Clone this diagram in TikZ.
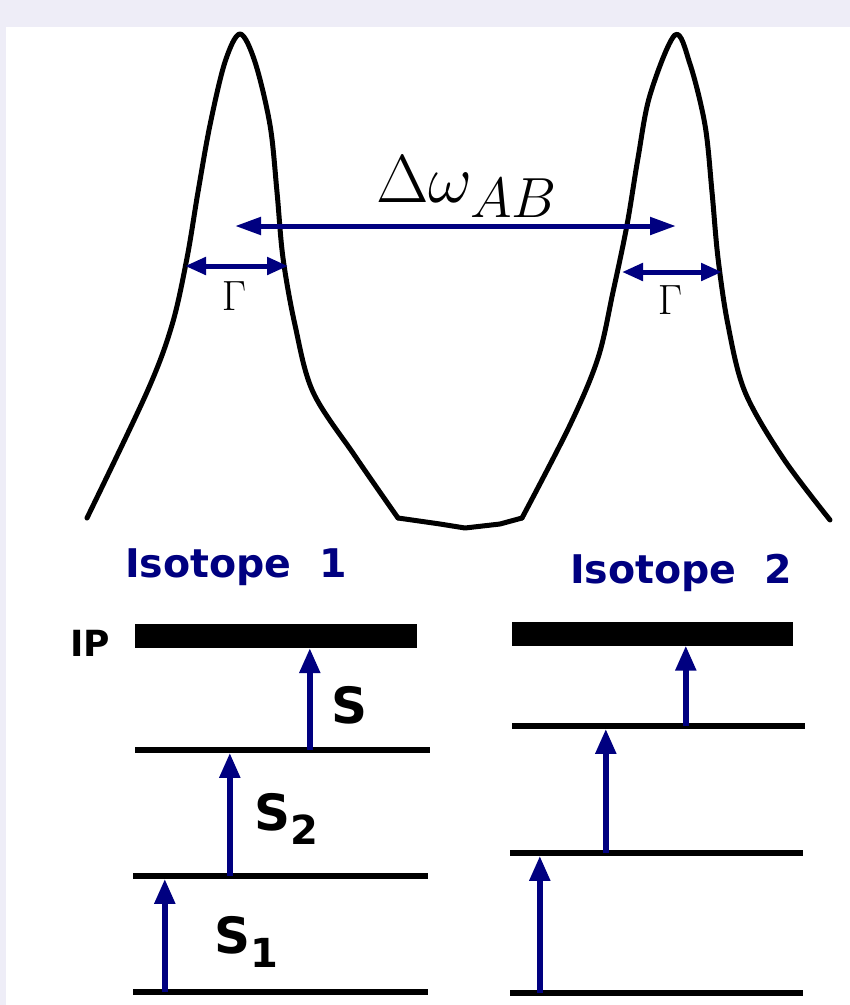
\documentclass[tikz,border=0pt]{standalone}
\usepackage[no-math]{fontspec}
\newfontfamily\labelfont{DejaVu Sans}
\usepackage{tikz}
\usetikzlibrary{arrows.meta,positioning,calc}
\definecolor{arrowcolor}{RGB}{0,0,128}
\definecolor{framecolor}{RGB}{238,237,247}
\newcommand{\lvlsub}[1]{\raisebox{-14pt}{\fontsize{40}{42}\selectfont #1}}

\begin{document}
\begin{tikzpicture}[
    x=1pt, y=-1pt,
    every node/.style={inner sep=0pt},
    spectrum/.style={line width=5pt, line join=round, line cap=round},
    level/.style={rectangle, fill=black, minimum height=5.5pt},
    ipbar/.style={rectangle, fill=black, minimum height=24pt},
    excite/.style={arrowcolor, line width=5.5pt, -{Triangle[length=25pt,width=20pt]}},
    span/.style={arrowcolor, line width=5pt, {Triangle[length=26pt,width=17pt]}-{Triangle[length=26pt,width=17pt]}},
    fwhm/.style={arrowcolor, line width=5pt, {Triangle[length=21pt,width=17pt]}-{Triangle[length=21pt,width=17pt]}},
    isolabel/.style={font=\labelfont\bfseries\fontsize{39.5}{42}\selectfont, text=arrowcolor, anchor=base west},
    steplabel/.style={font=\labelfont\bfseries\fontsize{50}{52}\selectfont, anchor=base west},
    gammalabel/.style={font=\fontsize{24.88}{30}\selectfont}
]
    % Frame
    \useasboundingbox (0,0) rectangle (850,1005);
    \fill[framecolor] (0,0) rectangle (850,1005);
    \fill[white] (6,27) rectangle (850,1005);

    % Spectrum
    \draw[spectrum] plot[smooth, tension=0.55] coordinates {(87,518) (147,392) (172,325) (187,258) (198,192) (210,125) (225,62) (240,34) (255,62) (270,125) (277,192) (283,258) (295,325) (313,392) (355,456) (398,518)};
    \draw[spectrum] (398,518) -- (440,524) -- (465,528) -- (500,524) -- (522,518);
    \draw[spectrum] plot[smooth, tension=0.55] coordinates {(522,518) (570,425) (598,358) (613,292) (627,225) (638,158) (650,95) (675,35) (690,64) (705,125) (712,192) (718,258) (728,325) (745,392) (783,458) (830,520)};

    \coordinate (dwL) at (235,226);
    \coordinate (dwR) at (676,226);
    \coordinate (g1L) at (185,266);
    \coordinate (g1R) at (288,266);
    \coordinate (g2L) at (622,272);
    \coordinate (g2R) at (722,272);

    \node[anchor=base west, font=\fontsize{24.88}{30}\selectfont] (dw) at (376,202) {\scalebox{2.73}{$\Delta\omega_{AB}$}};
    \node[gammalabel] (gam1) at (234,296) {\scalebox{1.7}{$\Gamma$}};
    \node[gammalabel] (gam2) at (670,300) {\scalebox{1.7}{$\Gamma$}};

    \draw[span] (dwL) -- (dwR);
    \draw[fwhm] (g1L) -- (g1R);
    \draw[fwhm] (g2L) -- (g2R);

    % Isotope 1
    \node[isolabel] (iso1) at (125,577) {Isotope\ \ 1};
    \node[steplabel, font=\labelfont\bfseries\fontsize{36}{38}\selectfont] (ip) at (70,656) {IP};
    \node[ipbar, minimum width=282pt] (A3) at (276,636) {};
    \node[level, minimum width=295pt] (A2) at (282.5,750) {};
    \node[level, minimum width=295pt] (A1) at (280.5,876) {};
    \node[level, minimum width=295pt] (A0) at (280.5,992) {};

    \node[steplabel] (s) at (331,723) {S};
    \node[steplabel] (s2) at (254,830) {S\lvlsub{2}};
    \node[steplabel] (s1) at (214,953) {S\lvlsub{1}};

    \draw[excite] ([xshift=32pt]A0.west) -- ([xshift=32pt]A0.west |- A1.south);
    \draw[excite] ([xshift=97pt]A1.west) -- ([xshift=97pt]A1.west |- A2.south);
    \draw[excite] ([xshift=175pt]A2.west) -- ([xshift=175pt]A2.west |- A3.south);

    % Isotope 2
    \node[isolabel] (iso2) at (570,583) {Isotope\ \ 2};
    \node[ipbar, minimum width=281pt] (B3) at (652.5,633.5) {};
    \node[level, minimum width=293pt] (B2) at (658.5,726) {};
    \node[level, minimum width=293pt] (B1) at (656.5,853) {};
    \node[level, minimum width=293pt] (B0) at (656.5,993) {};

    \draw[excite] ([xshift=30pt]B0.west) -- ([xshift=30pt]B0.west |- B1.south);
    \draw[excite] ([xshift=96pt]B1.west) -- ([xshift=96pt]B1.west |- B2.south);
    \draw[excite] ([xshift=174pt]B2.west) -- ([xshift=174pt]B2.west |- B3.south);
\end{tikzpicture}
\end{document}
